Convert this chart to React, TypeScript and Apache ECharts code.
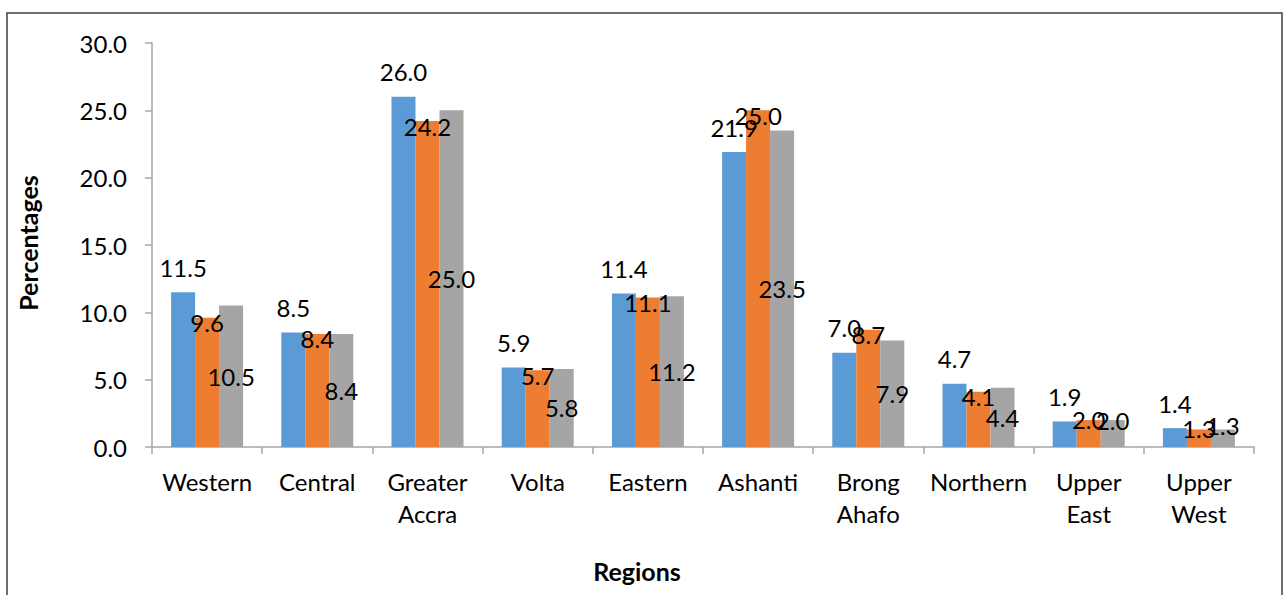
import React, { useEffect, useRef } from "react";
import * as echarts from "echarts";

const categories = [
  "Western",
  "Central",
  "Greater\nAccra",
  "Volta",
  "Eastern",
  "Ashanti",
  "Brong\nAhafo",
  "Northern",
  "Upper\nEast",
  "Upper\nWest",
];
const series1 = [11.5, 8.5, 26.0, 5.9, 11.4, 21.9, 7.0, 4.7, 1.9, 1.4];
const series2 = [9.6, 8.4, 24.2, 5.7, 11.1, 25.0, 8.7, 4.1, 2.0, 1.3];
const series3 = [10.5, 8.4, 25.0, 5.8, 11.2, 23.5, 7.9, 4.4, 2.0, 1.3];
const yMin = 0;
const yMax = 30;
const yInterval = 5;

const FONT = "Lato, 'Open Sans', sans-serif";
const AXIS_COLOR = "#A6A6A6";

export default function App() {
  const ref = useRef<HTMLDivElement>(null);
  useEffect(() => {
    if (!ref.current) return;
    const chart = echarts.init(ref.current, undefined, { renderer: "svg" });
    const labelBase = {
      show: true,
      color: "#000",
      fontFamily: FONT,
      fontSize: 24,
      formatter: (p: any) => Number(p.value).toFixed(1),
    };
    // Small bars: Excel lifts the labels up a bit
    const s2Data = series2.map((v) =>
      v < 3 ? { value: v, label: { offset: [0, -6] } } : v
    );
    const s3Data = series3.map((v) =>
      v < 3 ? { value: v, label: { offset: [0, -13] } } : v
    );
    chart.setOption({
      animation: false,
      backgroundColor: "#fff",
      grid: { left: 152, right: 31, top: 43, bottom: 148, containLabel: false },
      xAxis: {
        type: "category",
        data: categories,
        axisLine: { lineStyle: { color: AXIS_COLOR, width: 1.5 } },
        axisTick: { show: true, length: 7, lineStyle: { color: AXIS_COLOR, width: 1.5 } },
        axisLabel: {
          color: "#000",
          fontFamily: FONT,
          fontSize: 24,
          lineHeight: 32,
          margin: 18,
          interval: 0,
        },
        splitLine: { show: false },
      },
      yAxis: {
        type: "value",
        min: yMin,
        max: yMax,
        interval: yInterval,
        axisLine: { show: true, lineStyle: { color: AXIS_COLOR, width: 1.5 } },
        axisTick: { show: true, length: 7, lineStyle: { color: AXIS_COLOR, width: 1.5 } },
        axisLabel: {
          color: "#000",
          fontFamily: FONT,
          fontSize: 24,
          margin: 25,
          formatter: (v: number) => v.toFixed(1),
        },
        splitLine: { show: false },
      },
      series: [
        {
          type: "bar",
          data: series1,
          barWidth: 24,
          barGap: "0%",
          itemStyle: { color: "#5B9BD5" },
          label: { ...labelBase, position: "top", distance: 13 },
        },
        {
          type: "bar",
          data: s2Data,
          barWidth: 24,
          barGap: "0%",
          itemStyle: { color: "#ED7D31" },
          label: { ...labelBase, position: "insideTop", distance: -7 },
        },
        {
          type: "bar",
          data: s3Data,
          barWidth: 24,
          barGap: "0%",
          itemStyle: { color: "#A5A5A5" },
          label: { ...labelBase, position: "inside" },
        },
      ],
      graphic: [
        {
          type: "rect",
          shape: { x: 7, y: 13, width: 1275, height: 620 },
          style: { fill: "none", stroke: "#404040", lineWidth: 1.5 },
          silent: true,
        },
        {
          type: "text",
          x: 28,
          y: 243,
          rotation: Math.PI / 2,
          style: {
            text: "Percentages",
            fontFamily: FONT,
            fontSize: 25,
            fontWeight: "bold",
            fill: "#000",
            align: "center",
            verticalAlign: "middle",
          },
        },
        {
          type: "text",
          x: 637,
          y: 571,
          style: {
            text: "Regions",
            fontFamily: FONT,
            fontSize: 25,
            fontWeight: "bold",
            fill: "#000",
            align: "center",
            verticalAlign: "middle",
          },
        },
      ],
    });
    return () => chart.dispose();
  }, []);
  return (
    <div
      ref={ref}
      style={{ position: "absolute", left: 0, top: 0, width: 1285, height: 595 }}
    />
  );
}
